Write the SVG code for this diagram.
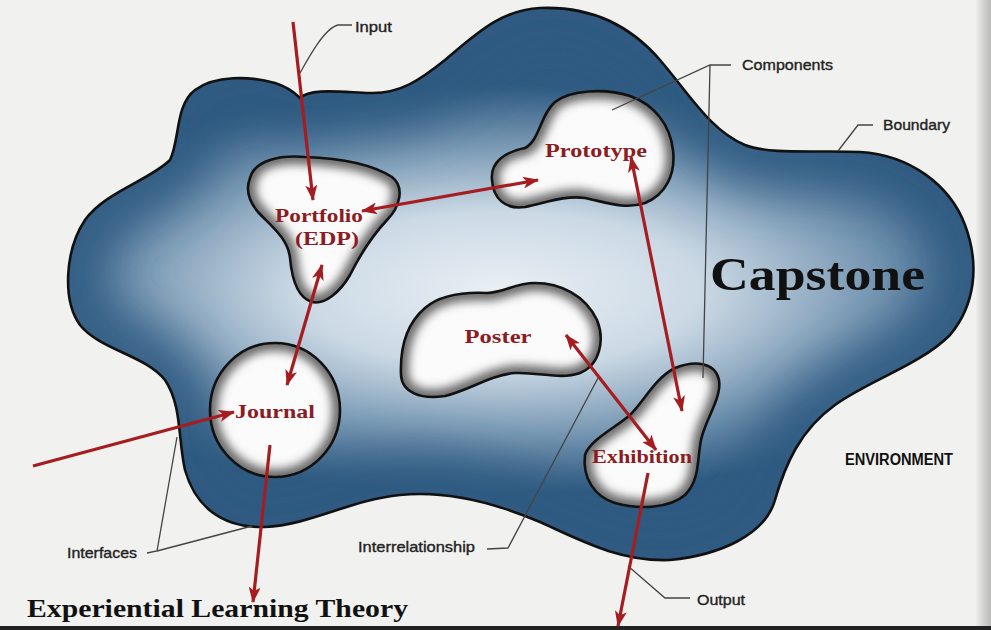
<svg xmlns="http://www.w3.org/2000/svg" width="991" height="630" viewBox="0 0 991 630">
<style>
.lbl{font-family:"Liberation Sans",Arial,sans-serif;font-size:15px;fill:#222;stroke:#222;stroke-width:0.35}
.node{font-family:"Liberation Serif","Times New Roman",serif;font-weight:bold;font-size:19px;fill:#8b1c1f}
.big{font-family:"Liberation Serif","Times New Roman",serif;font-weight:bold;fill:#111}
.lead{fill:none;stroke:#444;stroke-width:1.3}
.arr{fill:none;stroke:#a51d21;stroke-width:3.2}
.bedge{fill:none;stroke:#111;stroke-width:2.6}
.inner{fill:none;stroke:#6a6a6a;stroke-width:16;filter:url(#blurS)}
</style>
<defs>
<filter id="blurS" x="-20%" y="-20%" width="140%" height="140%"><feGaussianBlur stdDeviation="5"/></filter>
<filter id="blurL" x="-20%" y="-20%" width="140%" height="140%"><feGaussianBlur stdDeviation="28"/></filter>
<radialGradient id="bg" gradientUnits="userSpaceOnUse" cx="500" cy="290" r="330" gradientTransform="translate(500 290) scale(1.6 0.62) translate(-500 -290)">
<stop offset="0" stop-color="#e9eff4"/>
<stop offset="0.38" stop-color="#cbd9e5"/>
<stop offset="0.72" stop-color="#7696b2"/>
<stop offset="1" stop-color="#2f5a81"/>
</radialGradient>
<linearGradient id="gut" x1="0" y1="0" x2="1" y2="0">
<stop offset="0" stop-color="#ececea"/>
<stop offset="1" stop-color="#b9b9b7"/>
</linearGradient>
<path id="outer" d="M300,98 C310,88 340,92 370,93 C400,94 420,80 445,60 C475,35 500,10 540,8 C590,6 630,25 660,60 C690,95 710,130 745,145 C770,155 820,150 860,152 C910,155 950,185 965,225 C980,265 975,305 950,335 C920,365 870,380 835,405 C800,430 785,465 775,500 C765,535 720,555 670,560 C620,562 580,540 540,522 C500,505 450,490 400,495 C350,500 310,525 265,527 C220,528 195,505 185,470 C178,440 182,405 165,380 C145,355 100,350 80,325 C62,300 65,250 85,220 C105,192 150,180 170,160 C180,140 175,105 195,90 C215,75 250,76 275,83 C288,87 295,93 300,98 Z"/>
<path id="pPort" d="M250,178 C255,160 280,155 305,157 C335,158 370,163 392,177 C405,187 400,207 387,220 C372,236 360,255 350,275 C340,292 325,305 312,302 C298,298 292,280 290,258 C288,238 270,225 258,212 C248,200 246,188 250,178 Z"/>
<path id="pProt" d="M492,180 C490,162 505,152 525,148 C540,140 540,115 555,102 C570,90 605,88 630,96 C655,105 670,125 673,150 C676,175 665,195 645,203 C625,210 605,202 585,198 C565,195 545,203 525,207 C505,210 493,198 492,180 Z"/>
<path id="pJour" d="M210,410 A65,67 0 1 1 340,410 A65,67 0 1 1 210,410 Z"/>
<path id="pPost" d="M401,375 C400,350 405,325 425,308 C440,295 465,292 487,293 C505,292 515,283 535,283 C560,283 585,295 597,320 C605,340 600,365 580,373 C560,380 540,372 515,373 C490,375 470,390 445,396 C420,400 402,392 401,375 Z"/>
<path id="pExh" d="M585,455 C590,440 615,428 630,415 C645,400 655,378 675,368 C695,360 715,362 719,380 C722,398 705,420 701,440 C697,460 700,480 685,495 C670,508 640,510 615,503 C595,497 582,478 585,455 Z"/>
<clipPath id="cOuter"><use href="#outer"/></clipPath>
<clipPath id="cPort"><use href="#pPort"/></clipPath>
<clipPath id="cProt"><use href="#pProt"/></clipPath>
<clipPath id="cJour"><use href="#pJour"/></clipPath>
<clipPath id="cPost"><use href="#pPost"/></clipPath>
<clipPath id="cExh"><use href="#pExh"/></clipPath>
<marker id="ah" viewBox="0 0 16 12" refX="15" refY="6" markerWidth="16" markerHeight="12" markerUnits="userSpaceOnUse" orient="auto-start-reverse">
<path d="M0,0 L16,6 L0,12 L4,6 Z" fill="#a51d21"/>
</marker>
</defs>
<rect width="991" height="630" fill="#f1f1ef"/>
<rect x="976" y="0" width="15" height="630" fill="url(#gut)"/>
<rect x="0" y="626" width="991" height="4" fill="#222"/>

<g id="capstone-boundary">
<use href="#outer" fill="url(#bg)"/>
<g clip-path="url(#cOuter)"><use href="#outer" fill="none" stroke="#2f5a81" stroke-width="70" filter="url(#blurL)"/></g>
<use href="#outer" class="bedge"/>
</g>

<g id="node-portfolio">
<use href="#pPort" fill="#fbfbfb"/>
<g clip-path="url(#cPort)"><use href="#pPort" class="inner"/></g>
<use href="#pPort" class="bedge"/>
<text class="node" x="319" y="222" text-anchor="middle" textLength="88" lengthAdjust="spacingAndGlyphs">Portfolio</text>
<text class="node" x="327" y="245" text-anchor="middle" textLength="64" lengthAdjust="spacingAndGlyphs">(EDP)</text>
</g>

<g id="node-prototype">
<use href="#pProt" fill="#fbfbfb"/>
<g clip-path="url(#cProt)"><use href="#pProt" class="inner"/></g>
<use href="#pProt" class="bedge"/>
<text class="node" x="596" y="157" text-anchor="middle" textLength="102" lengthAdjust="spacingAndGlyphs">Prototype</text>
</g>

<g id="node-journal">
<use href="#pJour" fill="#fbfbfb"/>
<g clip-path="url(#cJour)"><use href="#pJour" class="inner"/></g>
<use href="#pJour" class="bedge"/>
<text class="node" x="275" y="418" text-anchor="middle" textLength="80" lengthAdjust="spacingAndGlyphs">Journal</text>
</g>

<g id="node-poster">
<use href="#pPost" fill="#fbfbfb"/>
<g clip-path="url(#cPost)"><use href="#pPost" class="inner"/></g>
<use href="#pPost" class="bedge"/>
<text class="node" x="498" y="343" text-anchor="middle" textLength="67" lengthAdjust="spacingAndGlyphs">Poster</text>
</g>

<g id="node-exhibition">
<use href="#pExh" fill="#fbfbfb"/>
<g clip-path="url(#cExh)"><use href="#pExh" class="inner"/></g>
<use href="#pExh" class="bedge"/>
<text class="node" x="642" y="463" text-anchor="middle" textLength="100" lengthAdjust="spacingAndGlyphs">Exhibition</text>
</g>

<g id="leaders">
<path class="lead" d="M352,25 L338,25 C325,28 310,55 300,73"/>
<path class="lead" d="M731,65 L710,65 L612,110 M710,65 L703,378"/>
<path class="lead" d="M873,125 L858,125 L838,151"/>
<path class="lead" d="M147,553 L157,551 L177,437 M157,551 L252,526"/>
<path class="lead" d="M487,549 L508,548 L598,378"/>
<path class="lead" d="M690,598 L665,598 L628,566"/>
</g>

<g id="connectors">
<path class="arr" d="M293,22 L313,200" marker-end="url(#ah)"/>
<path class="arr" d="M362,211 L538,180" marker-start="url(#ah)" marker-end="url(#ah)"/>
<path class="arr" d="M322,265 L287,385" marker-start="url(#ah)" marker-end="url(#ah)"/>
<path class="arr" d="M631,157 L682,411" marker-start="url(#ah)" marker-end="url(#ah)"/>
<path class="arr" d="M566,335 L656,450" marker-start="url(#ah)" marker-end="url(#ah)"/>
<path class="arr" d="M33,466 L234,412" marker-end="url(#ah)"/>
<path class="arr" d="M270,445 L253,602" marker-end="url(#ah)"/>
<path class="arr" d="M648,473 L618,626" marker-end="url(#ah)"/>
</g>

<g id="labels">
<text class="lbl" x="355" y="32" textLength="37" lengthAdjust="spacingAndGlyphs">Input</text>
<text class="lbl" x="742" y="70" textLength="91" lengthAdjust="spacingAndGlyphs">Components</text>
<text class="lbl" x="883" y="130" textLength="67" lengthAdjust="spacingAndGlyphs">Boundary</text>
<text class="lbl" x="67" y="558" textLength="70" lengthAdjust="spacingAndGlyphs">Interfaces</text>
<text class="lbl" x="358" y="552" textLength="117" lengthAdjust="spacingAndGlyphs">Interrelationship</text>
<text class="lbl" x="697" y="605" textLength="48" lengthAdjust="spacingAndGlyphs">Output</text>
<text x="845" y="465" font-family="Liberation Sans,Arial,sans-serif" font-weight="bold" font-size="16" fill="#111" textLength="108" lengthAdjust="spacingAndGlyphs">ENVIRONMENT</text>
<text class="big" x="710" y="290" font-size="46" textLength="215" lengthAdjust="spacingAndGlyphs">Capstone</text>
<text class="big" x="27" y="617" font-size="25" textLength="381" lengthAdjust="spacingAndGlyphs">Experiential Learning Theory</text>
</g>
</svg>
